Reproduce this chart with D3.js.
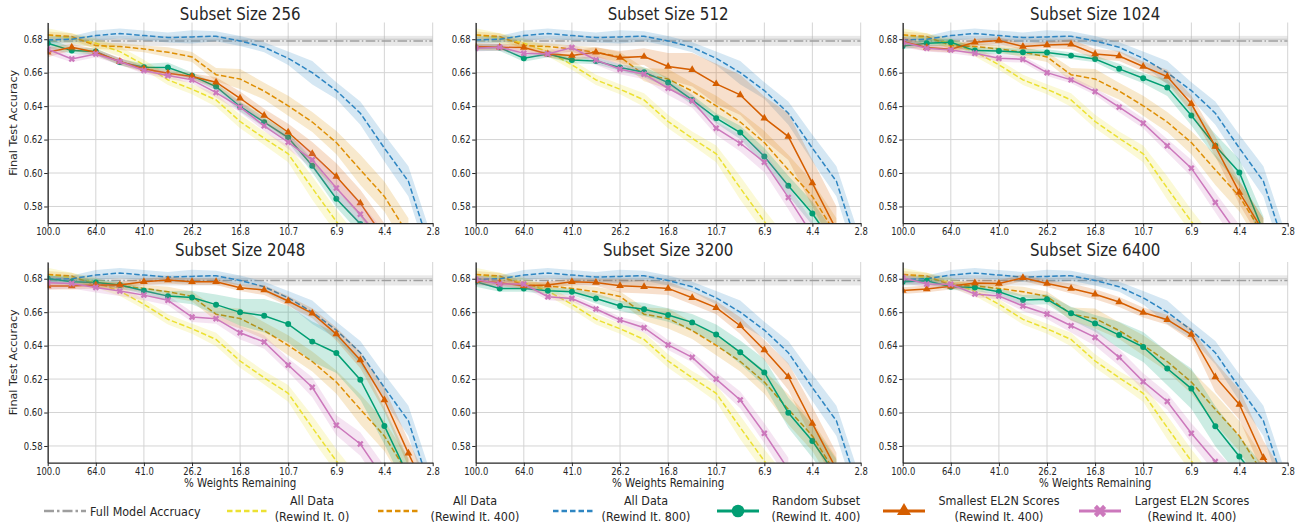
<!DOCTYPE html>
<html>
<head>
<meta charset="utf-8">
<script src="https://cdn.jsdelivr.net/npm/d3@7"></script>
<style>
  body { margin: 0; background: #fff; }
  svg { display: block; font-family: "DejaVu Sans", sans-serif; }
</style>
</head>
<body>
<svg id="chart" width="1307" height="529"></svg>
<script>
// % weights remaining at each pruning iteration
const weights = [100, 80, 64, 51.2, 40.96, 32.77, 26.21, 20.97, 16.78, 13.42, 10.74, 8.59, 6.87, 5.5, 4.4, 3.52, 2.81];
const xTickVals = [100, 64, 40.96, 26.21, 16.78, 10.74, 6.87, 4.4, 2.81];
const xTickLabels = ["100.0", "64.0", "41.0", "26.2", "16.8", "10.7", "6.9", "4.4", "2.8"];
const yTicks = [0.58, 0.60, 0.62, 0.64, 0.66, 0.68];
const subsets = [256, 512, 1024, 2048, 3200, 6400];

const fullAcc = 0.679;
const fullBand = 0.003;

// shared "All Data" curves
const allData0 = [0.6826, 0.6806, 0.6776, 0.6726, 0.6647, 0.6557, 0.6501, 0.6437, 0.6308, 0.6208, 0.6115, 0.591, 0.571, 0.552];
const allData0Band = [0.004, 0.003, 0.003, 0.003, 0.003, 0.003, 0.003, 0.004, 0.004, 0.004, 0.005, 0.007, 0.007, 0.008];
const allData400 = [0.6826, 0.6816, 0.6762, 0.6756, 0.6742, 0.6722, 0.6694, 0.6588, 0.6562, 0.649, 0.6402, 0.6305, 0.6182, 0.6019, 0.586, 0.563];
const allData400Band = [0.002, 0.002, 0.002, 0.002, 0.002, 0.003, 0.003, 0.004, 0.006, 0.005, 0.006, 0.006, 0.007, 0.009, 0.009, 0.01];
const allData800 = [0.6796, 0.68, 0.6822, 0.6834, 0.6822, 0.681, 0.6814, 0.6818, 0.679, 0.6752, 0.6686, 0.66, 0.6493, 0.6358, 0.6149, 0.595, 0.55];
const allData800Band = [0.002, 0.002, 0.003, 0.003, 0.003, 0.003, 0.004, 0.003, 0.003, 0.003, 0.004, 0.007, 0.005, 0.007, 0.008, 0.009, 0.01];

// per subset size: random / smallest EL2N / largest EL2N (rewind it. 400)
const random = [
  [0.6776, 0.6732, 0.6726, 0.6663, 0.6633, 0.6631, 0.6581, 0.6517, 0.6398, 0.6304, 0.6212, 0.6043, 0.5846, 0.5696, 0.554],
  [0.675, 0.675, 0.6686, 0.6712, 0.6676, 0.667, 0.6631, 0.6603, 0.6541, 0.6437, 0.6328, 0.6242, 0.6099, 0.5924, 0.5758, 0.555],
  [0.676, 0.6776, 0.6782, 0.6732, 0.673, 0.6722, 0.672, 0.6702, 0.6682, 0.6623, 0.6567, 0.6511, 0.6344, 0.6163, 0.6003, 0.565],
  [0.6802, 0.6782, 0.6778, 0.6762, 0.6728, 0.6696, 0.6688, 0.6645, 0.6599, 0.6579, 0.6529, 0.6424, 0.6356, 0.6196, 0.592, 0.562],
  [0.6782, 0.6742, 0.6742, 0.6728, 0.6722, 0.6682, 0.6637, 0.6617, 0.6583, 0.6539, 0.6467, 0.636, 0.624, 0.5999, 0.583, 0.562],
  [0.6782, 0.6788, 0.6752, 0.6748, 0.6722, 0.6673, 0.6677, 0.6593, 0.6533, 0.6463, 0.6392, 0.6263, 0.6143, 0.5918, 0.5737, 0.556]
];
const randomBand = [
  [0.003, 0.002, 0.002, 0.002, 0.002, 0.003, 0.002, 0.002, 0.003, 0.003, 0.003, 0.004, 0.005, 0.006, 0.007],
  [0.002, 0.002, 0.002, 0.002, 0.002, 0.002, 0.002, 0.003, 0.003, 0.003, 0.003, 0.004, 0.005, 0.006, 0.007, 0.008],
  [0.002, 0.002, 0.002, 0.002, 0.002, 0.002, 0.002, 0.002, 0.002, 0.003, 0.003, 0.005, 0.006, 0.007, 0.008, 0.009],
  [0.002, 0.002, 0.002, 0.002, 0.002, 0.003, 0.004, 0.006, 0.008, 0.01, 0.011, 0.012, 0.012, 0.012, 0.011, 0.01],
  [0.003, 0.002, 0.002, 0.002, 0.002, 0.003, 0.003, 0.004, 0.004, 0.005, 0.006, 0.007, 0.008, 0.009, 0.01, 0.01],
  [0.002, 0.002, 0.002, 0.002, 0.002, 0.003, 0.003, 0.004, 0.005, 0.008, 0.009, 0.01, 0.012, 0.012, 0.012, 0.012]
];
const smallest = [
  [0.6722, 0.6752, 0.6722, 0.6667, 0.6623, 0.6597, 0.6577, 0.6543, 0.6447, 0.6344, 0.6244, 0.6115, 0.5979, 0.582, 0.561],
  [0.6756, 0.6752, 0.675, 0.6712, 0.6702, 0.6722, 0.669, 0.6696, 0.6637, 0.6617, 0.6533, 0.6467, 0.6328, 0.6218, 0.594, 0.566],
  [0.6786, 0.675, 0.674, 0.6782, 0.6792, 0.6756, 0.6766, 0.677, 0.6712, 0.67, 0.6637, 0.6577, 0.6414, 0.6159, 0.5884, 0.565],
  [0.6756, 0.6756, 0.6762, 0.6762, 0.6782, 0.6792, 0.6782, 0.6782, 0.6746, 0.6732, 0.6667, 0.6593, 0.6469, 0.6314, 0.6075, 0.5756, 0.545],
  [0.6788, 0.6776, 0.6758, 0.6762, 0.6782, 0.6778, 0.6758, 0.6752, 0.6742, 0.6686, 0.6627, 0.6519, 0.6374, 0.6214, 0.5935, 0.566],
  [0.6729, 0.6739, 0.6755, 0.6775, 0.6771, 0.6806, 0.6771, 0.6741, 0.6707, 0.6661, 0.6598, 0.6555, 0.6466, 0.6213, 0.6048, 0.573, 0.55]
];
const smallestBand = [
  [0.003, 0.002, 0.002, 0.002, 0.002, 0.002, 0.002, 0.003, 0.004, 0.004, 0.005, 0.007, 0.008, 0.008, 0.009],
  [0.002, 0.002, 0.002, 0.002, 0.003, 0.003, 0.004, 0.005, 0.008, 0.01, 0.012, 0.012, 0.013, 0.014, 0.014, 0.014],
  [0.003, 0.002, 0.002, 0.002, 0.002, 0.002, 0.002, 0.003, 0.003, 0.003, 0.003, 0.004, 0.005, 0.006, 0.007, 0.008],
  [0.002, 0.002, 0.002, 0.002, 0.002, 0.002, 0.002, 0.002, 0.002, 0.003, 0.003, 0.003, 0.004, 0.005, 0.007, 0.008, 0.008],
  [0.002, 0.002, 0.002, 0.002, 0.002, 0.002, 0.004, 0.004, 0.004, 0.004, 0.004, 0.005, 0.006, 0.008, 0.01, 0.01],
  [0.002, 0.002, 0.002, 0.002, 0.002, 0.002, 0.002, 0.003, 0.003, 0.003, 0.003, 0.003, 0.004, 0.009, 0.009, 0.01, 0.01]
];
const largest = [
  [0.674, 0.6682, 0.6712, 0.6667, 0.6613, 0.6583, 0.6557, 0.6481, 0.6394, 0.6282, 0.6184, 0.6079, 0.591, 0.5754, 0.557],
  [0.6746, 0.6752, 0.6716, 0.6712, 0.675, 0.6676, 0.6621, 0.6591, 0.6507, 0.6431, 0.6268, 0.6178, 0.6065, 0.5854, 0.563],
  [0.6782, 0.6746, 0.6736, 0.6716, 0.6686, 0.668, 0.66, 0.6557, 0.6487, 0.6394, 0.6298, 0.6163, 0.6029, 0.5824, 0.562],
  [0.6776, 0.6772, 0.6748, 0.6726, 0.6702, 0.6671, 0.6571, 0.6561, 0.6477, 0.6422, 0.6284, 0.6151, 0.5924, 0.5812, 0.56],
  [0.6796, 0.6768, 0.6768, 0.6692, 0.6682, 0.6619, 0.6553, 0.6507, 0.6404, 0.633, 0.62, 0.6075, 0.5876, 0.566],
  [0.6806, 0.6768, 0.6767, 0.6709, 0.6697, 0.6637, 0.6589, 0.6519, 0.6449, 0.633, 0.6185, 0.6066, 0.5876, 0.5707, 0.555]
];
const largestBand = [
  [0.003, 0.002, 0.002, 0.002, 0.002, 0.002, 0.002, 0.003, 0.003, 0.003, 0.004, 0.005, 0.006, 0.007, 0.008],
  [0.002, 0.002, 0.002, 0.002, 0.002, 0.003, 0.003, 0.003, 0.004, 0.004, 0.004, 0.005, 0.006, 0.007, 0.008],
  [0.003, 0.002, 0.002, 0.002, 0.002, 0.002, 0.002, 0.002, 0.002, 0.003, 0.003, 0.004, 0.005, 0.006, 0.007],
  [0.004, 0.003, 0.003, 0.003, 0.003, 0.003, 0.003, 0.003, 0.004, 0.004, 0.004, 0.006, 0.006, 0.007, 0.008],
  [0.003, 0.002, 0.002, 0.002, 0.002, 0.002, 0.002, 0.003, 0.003, 0.003, 0.004, 0.005, 0.006, 0.007],
  [0.003, 0.002, 0.002, 0.002, 0.002, 0.003, 0.003, 0.004, 0.005, 0.005, 0.005, 0.005, 0.006, 0.007, 0.008]
];

const legendLabels = [
  ["Full Model Accruacy"],
  ["All Data", "(Rewind It. 0)"],
  ["All Data", "(Rewind It. 400)"],
  ["All Data", "(Rewind It. 800)"],
  ["Random Subset", "(Rewind It. 400)"],
  ["Smallest EL2N Scores", "(Rewind It. 400)"],
  ["Largest EL2N Scores", "(Rewind It. 400)"]
];

const colors = {
  full: "#9e9e9e", all0: "#ece133", all400: "#de8f05", all800: "#2f86c2",
  random: "#029e73", smallest: "#d55e00", largest: "#cc78bc"
};
const DASH = "5.5,2.4";
const DASHDOT = "9.6,2.4,1.5,2.4";
const SQ = 0.86; // glyphs in the reference are horizontally narrow
const ink = "#262626";

const svg = d3.select("#chart");
const cols = [47.7, 475.7, 902.7];
const rows = [22.5, 262];
const pw = 385, ph = 200.7;

const x = d3.scaleLog().domain([weights[0], weights[weights.length - 1]]).range([0, pw]);
const y = d3.scaleLinear().domain([0.57, 0.69]).range([ph, 0]);

const markers = {
  circle: { type: d3.symbolCircle, size: 28, rot: 0 },
  triangle: { type: d3.symbolTriangle, size: 26, rot: 0 },
  x: { type: d3.symbolCross, size: 26, rot: 45 }
};

const line = d3.line().x((d, i) => x(weights[i])).y(d => y(d));
const area = band => d3.area()
  .x((d, i) => x(weights[i]))
  .y0((d, i) => y(d - band[i]))
  .y1((d, i) => y(d + band[i]));

subsets.forEach((size, k) => {
  const r = Math.floor(k / 3), c = k % 3;
  const g = svg.append("g").attr("transform", `translate(${cols[c]},${rows[r]})`);

  g.append("clipPath").attr("id", `clip${k}`)
    .append("rect").attr("width", pw).attr("height", ph);

  // grid
  g.append("g").selectAll("line").data(xTickVals).join("line")
    .attr("x1", d => x(d)).attr("x2", d => x(d)).attr("y1", 0).attr("y2", ph)
    .attr("stroke", "#d4d4d4").attr("stroke-width", 1);
  g.append("g").selectAll("line").data(yTicks).join("line")
    .attr("x1", 0).attr("x2", pw).attr("y1", d => y(d)).attr("y2", d => y(d))
    .attr("stroke", "#d4d4d4").attr("stroke-width", 1);

  const plot = g.append("g").attr("clip-path", `url(#clip${k})`);

  // full model accuracy
  plot.append("rect")
    .attr("x", 0).attr("width", pw)
    .attr("y", y(fullAcc + fullBand)).attr("height", y(fullAcc - fullBand) - y(fullAcc + fullBand))
    .attr("fill", colors.full).attr("opacity", 0.24);
  plot.append("line")
    .attr("x1", 0).attr("x2", pw).attr("y1", y(fullAcc)).attr("y2", y(fullAcc))
    .attr("stroke", colors.full).attr("stroke-width", 1.5).attr("stroke-dasharray", DASHDOT);

  const series = [
    { vals: allData0, band: allData0Band, color: colors.all0, dash: DASH },
    { vals: allData400, band: allData400Band, color: colors.all400, dash: DASH },
    { vals: allData800, band: allData800Band, color: colors.all800, dash: DASH },
    { vals: random[k], band: randomBand[k], color: colors.random, marker: "circle" },
    { vals: smallest[k], band: smallestBand[k], color: colors.smallest, marker: "triangle" },
    { vals: largest[k], band: largestBand[k], color: colors.largest, marker: "x" }
  ];

  series.forEach(s => {
    plot.append("path").datum(s.vals)
      .attr("d", area(s.band))
      .attr("fill", s.color).attr("opacity", 0.2);
    plot.append("path").datum(s.vals)
      .attr("d", line)
      .attr("fill", "none")
      .attr("stroke", s.color)
      .attr("stroke-width", 1.5)
      .attr("stroke-dasharray", s.dash || null);
    if (s.marker) {
      const m = markers[s.marker];
      plot.append("g").selectAll("path").data(s.vals).join("path")
        .attr("d", d3.symbol().type(m.type).size(m.size))
        .attr("transform", (d, i) => `translate(${x(weights[i])},${y(d)}) rotate(${m.rot})`)
        .attr("fill", s.color);
    }
  });

  // axes
  const styleAxis = a => {
    a.attr("font-family", null).attr("font-size", null);
    a.select(".domain").attr("stroke", ink).attr("stroke-width", 1.25);
    a.selectAll(".tick line").attr("stroke", ink).attr("stroke-width", 1);
    a.selectAll(".tick text")
      .attr("fill", ink).attr("font-size", 9.8)
      .attr("transform", `scale(${SQ},1)`);
  };
  g.append("g").attr("transform", `translate(0,${ph})`)
    .call(d3.axisBottom(x).tickValues(xTickVals).tickFormat((d, i) => xTickLabels[i])
      .tickSize(3.5).tickSizeOuter(0).tickPadding(1.6))
    .call(styleAxis);
  g.append("g")
    .call(d3.axisLeft(y).tickValues(yTicks).tickFormat(d3.format(".2f"))
      .tickSize(3.5).tickSizeOuter(0).tickPadding(2.5))
    .call(styleAxis);

  // title
  g.append("text")
    .attr("transform", `translate(${pw / 2},${(r === 0 ? 20 : 256) - rows[r]}) scale(${SQ},1)`)
    .attr("text-anchor", "middle").attr("font-size", 17.5).attr("fill", ink)
    .text(`Subset Size ${size}`);

  if (c === 0) {
    g.append("text")
      .attr("transform", `translate(${16.5 - cols[c]},${ph / 2}) scale(0.92,1) rotate(-90)`)
      .attr("text-anchor", "middle").attr("font-size", 11.2).attr("fill", ink)
      .text("Final Test Accuracy");
  }
  if (r === 1) {
    g.append("text")
      .attr("transform", `translate(${pw / 2},${ph + 24}) scale(${SQ},1)`)
      .attr("text-anchor", "middle").attr("font-size", 12).attr("fill", ink)
      .text("% Weights Remaining");
  }
});

// legend
const legendY = 511;
const legendHandles = [
  { x0: 44, color: colors.full, dash: "10,3,2.5,3", tx: 90, anchor: "start" },
  { x0: 227, color: colors.all0, dash: "5.5,3", tx: 312 },
  { x0: 378, color: colors.all400, dash: "5.5,3", tx: 475 },
  { x0: 553, color: colors.all800, dash: "5.5,3", tx: 646 },
  { x0: 717, color: colors.random, marker: d3.symbolCircle, size: 125, rot: 0, tx: 816 },
  { x0: 883, color: colors.smallest, marker: d3.symbolTriangle, size: 85, rot: 0, tx: 999 },
  { x0: 1079, color: colors.largest, marker: d3.symbolCross, size: 95, rot: 45, tx: 1192 }
];

const leg = svg.append("g").selectAll("g").data(legendHandles).join("g");
leg.append("line")
  .attr("x1", d => d.x0).attr("x2", d => d.x0 + 42)
  .attr("y1", legendY).attr("y2", legendY)
  .attr("stroke", d => d.color).attr("stroke-width", d => d.marker ? 3 : 2.6)
  .attr("stroke-dasharray", d => d.dash || null);
leg.filter(d => d.marker).append("path")
  .attr("d", d => d3.symbol().type(d.marker).size(d.size)())
  .attr("transform", d => `translate(${d.x0 + 21},${legendY}) rotate(${d.rot})`)
  .attr("fill", d => d.color);
leg.each(function (d, i) {
  const lines = legendLabels[i];
  const base = lines.length === 1 ? [legendY + 4.7] : [505.5, 521];
  const t = d3.select(this).append("text")
    .attr("transform", `translate(${d.tx},0) scale(${SQ},1)`)
    .attr("text-anchor", d.anchor || "middle")
    .attr("font-size", 13).attr("fill", ink);
  t.selectAll("tspan").data(lines).join("tspan")
    .attr("x", 0).attr("y", (s, j) => base[j])
    .text(s => s);
});
</script>
</body>
</html>
